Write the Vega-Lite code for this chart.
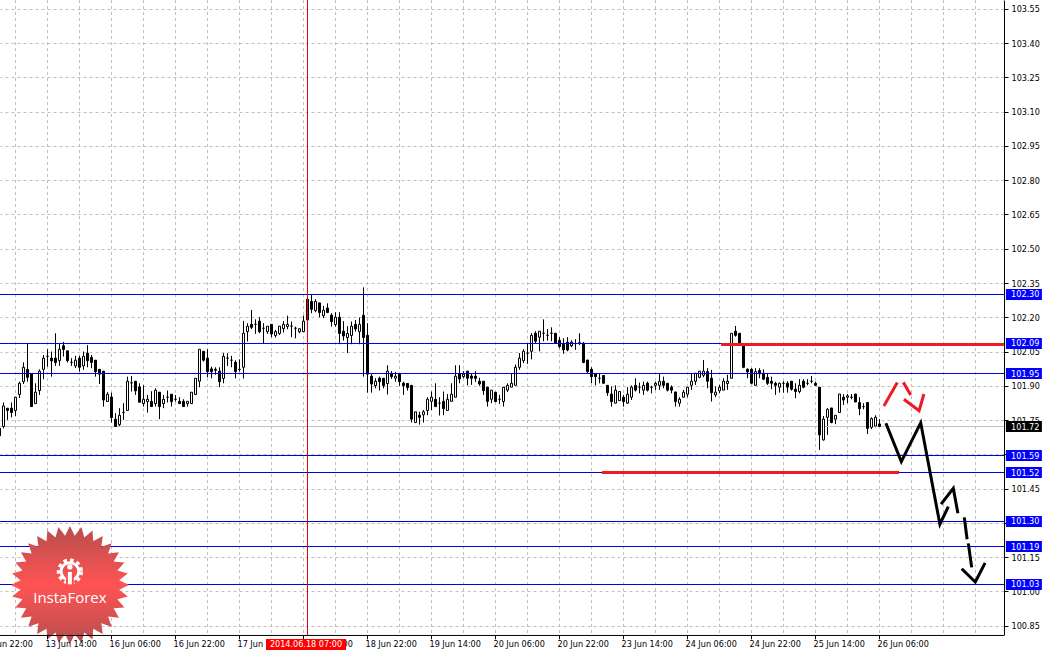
{"$schema":"https://vega.github.io/schema/vega-lite/v6.json","width":1004,"height":635,"autosize":{"type":"none"},"padding":{"left":0,"top":0,"right":39,"bottom":20},"background":"white","config":{"view":{"stroke":null}},
"datasets":{
"candles":[
{"b":0,"o":101.714,"h":101.714,"l":101.681,"c":101.681},{"b":1,"o":101.722,"h":101.827,"l":101.713,"c":101.812},{"b":2,"o":101.802,"h":101.802,"l":101.751,"c":101.792},{"b":3,"o":101.802,"h":101.827,"l":101.762,"c":101.783},{"b":4,"o":101.792,"h":101.85,"l":101.768,"c":101.85},{"b":5,"o":101.862,"h":101.918,"l":101.846,"c":101.911},{"b":6,"o":101.918,"h":102.003,"l":101.908,"c":101.981},{"b":7,"o":101.972,"h":102.086,"l":101.918,"c":101.937},{"b":8,"o":101.952,"h":101.952,"l":101.809,"c":101.809},{"b":9,"o":101.822,"h":101.911,"l":101.822,"c":101.872},
{"b":10,"o":101.879,"h":101.972,"l":101.86,"c":101.964},{"b":11,"o":101.972,"h":102.035,"l":101.929,"c":102.021},{"b":12,"o":102.029,"h":102.06,"l":101.984,"c":102.029},{"b":13,"o":102.021,"h":102.05,"l":101.94,"c":102.009},{"b":14,"o":102.021,"h":102.13,"l":101.987,"c":102.002},{"b":15,"o":102.01,"h":102.083,"l":101.987,"c":102.06},{"b":16,"o":102.075,"h":102.092,"l":102.028,"c":102.059},{"b":17,"o":102.053,"h":102.053,"l":102.002,"c":102.01},{"b":18,"o":102.003,"h":102.021,"l":101.987,"c":102.003},{"b":19,"o":101.987,"h":102.031,"l":101.978,"c":102.012},
{"b":20,"o":102.021,"h":102.031,"l":101.962,"c":101.981},{"b":21,"o":101.987,"h":102.05,"l":101.97,"c":102.029},{"b":22,"o":102.043,"h":102.078,"l":101.981,"c":102.01},{"b":23,"o":102.024,"h":102.035,"l":101.977,"c":102.002},{"b":24,"o":102.012,"h":102.012,"l":101.94,"c":101.962},{"b":25,"o":101.972,"h":101.972,"l":101.908,"c":101.951},{"b":26,"o":101.964,"h":101.964,"l":101.809,"c":101.838},{"b":27,"o":101.831,"h":101.872,"l":101.831,"c":101.863},{"b":28,"o":101.851,"h":101.87,"l":101.739,"c":101.761},{"b":29,"o":101.754,"h":101.78,"l":101.722,"c":101.722},
{"b":30,"o":101.73,"h":101.802,"l":101.722,"c":101.771},{"b":31,"o":101.784,"h":101.824,"l":101.751,"c":101.784},{"b":32,"o":101.792,"h":101.94,"l":101.792,"c":101.92},{"b":33,"o":101.913,"h":101.943,"l":101.875,"c":101.913},{"b":34,"o":101.92,"h":101.92,"l":101.86,"c":101.878},{"b":35,"o":101.895,"h":101.911,"l":101.828,"c":101.828},{"b":36,"o":101.822,"h":101.902,"l":101.809,"c":101.841},{"b":37,"o":101.831,"h":101.86,"l":101.783,"c":101.841},{"b":38,"o":101.832,"h":101.876,"l":101.809,"c":101.809},{"b":39,"o":101.822,"h":101.889,"l":101.809,"c":101.881},
{"b":40,"o":101.872,"h":101.872,"l":101.754,"c":101.809},{"b":41,"o":101.822,"h":101.86,"l":101.802,"c":101.841},{"b":42,"o":101.85,"h":101.879,"l":101.827,"c":101.85},{"b":43,"o":101.863,"h":101.863,"l":101.809,"c":101.831},{"b":44,"o":101.841,"h":101.86,"l":101.831,"c":101.841},{"b":45,"o":101.832,"h":101.85,"l":101.821,"c":101.822},{"b":46,"o":101.832,"h":101.841,"l":101.809,"c":101.809},{"b":47,"o":101.822,"h":101.832,"l":101.809,"c":101.832},{"b":48,"o":101.822,"h":101.872,"l":101.822,"c":101.872},{"b":49,"o":101.862,"h":101.933,"l":101.862,"c":101.933},
{"b":50,"o":101.92,"h":102.06,"l":101.894,"c":102.06},{"b":51,"o":102.051,"h":102.051,"l":102.006,"c":102.012},{"b":52,"o":102.021,"h":102.06,"l":101.937,"c":101.962},{"b":53,"o":101.974,"h":101.984,"l":101.933,"c":101.962},{"b":54,"o":101.972,"h":101.981,"l":101.948,"c":101.968},{"b":55,"o":101.964,"h":101.981,"l":101.894,"c":101.918},{"b":56,"o":101.932,"h":102.043,"l":101.911,"c":102.029},{"b":57,"o":102.021,"h":102.043,"l":101.987,"c":102.021},{"b":58,"o":102.012,"h":102.031,"l":101.981,"c":102.012},{"b":59,"o":102.003,"h":102.012,"l":101.933,"c":101.962},
{"b":60,"o":101.972,"h":102.016,"l":101.962,"c":101.972},{"b":61,"o":101.981,"h":102.184,"l":101.932,"c":102.13},{"b":62,"o":102.137,"h":102.174,"l":102.094,"c":102.161},{"b":63,"o":102.169,"h":102.232,"l":102.148,"c":102.156},{"b":64,"o":102.169,"h":102.191,"l":102.127,"c":102.169},{"b":65,"o":102.183,"h":102.2,"l":102.13,"c":102.137},{"b":66,"o":102.152,"h":102.174,"l":102.086,"c":102.152},{"b":67,"o":102.137,"h":102.161,"l":102.127,"c":102.161},{"b":68,"o":102.169,"h":102.169,"l":102.113,"c":102.127},{"b":69,"o":102.12,"h":102.145,"l":102.111,"c":102.137},
{"b":70,"o":102.129,"h":102.161,"l":102.123,"c":102.161},{"b":71,"o":102.15,"h":102.183,"l":102.133,"c":102.169},{"b":72,"o":102.159,"h":102.207,"l":102.148,"c":102.169},{"b":73,"o":102.161,"h":102.181,"l":102.113,"c":102.161},{"b":74,"o":102.152,"h":102.159,"l":102.108,"c":102.152},{"b":75,"o":102.137,"h":102.15,"l":102.13,"c":102.15},{"b":76,"o":102.137,"h":102.207,"l":102.137,"c":102.183},{"b":77,"o":102.279,"h":102.299,"l":102.188,"c":102.188},{"b":78,"o":102.269,"h":102.299,"l":102.218,"c":102.235},{"b":79,"o":102.229,"h":102.279,"l":102.222,"c":102.269},
{"b":80,"o":102.263,"h":102.263,"l":102.2,"c":102.221},{"b":81,"o":102.207,"h":102.25,"l":102.196,"c":102.231},{"b":82,"o":102.24,"h":102.261,"l":102.218,"c":102.221},{"b":83,"o":102.209,"h":102.218,"l":102.159,"c":102.181},{"b":84,"o":102.168,"h":102.222,"l":102.159,"c":102.2},{"b":85,"o":102.2,"h":102.222,"l":102.082,"c":102.129},{"b":86,"o":102.139,"h":102.183,"l":102.098,"c":102.118},{"b":87,"o":102.111,"h":102.161,"l":102.043,"c":102.129},{"b":88,"o":102.12,"h":102.181,"l":102.082,"c":102.161},{"b":89,"o":102.169,"h":102.188,"l":102.137,"c":102.149},
{"b":90,"o":102.137,"h":102.199,"l":102.082,"c":102.169},{"b":91,"o":102.209,"h":102.331,"l":101.94,"c":102.111},{"b":92,"o":102.121,"h":102.174,"l":101.87,"c":101.951},{"b":93,"o":101.942,"h":101.951,"l":101.87,"c":101.908},{"b":94,"o":101.901,"h":101.933,"l":101.889,"c":101.92},{"b":95,"o":101.933,"h":101.94,"l":101.879,"c":101.918},{"b":96,"o":101.933,"h":101.933,"l":101.889,"c":101.901},{"b":97,"o":101.91,"h":101.99,"l":101.862,"c":101.964},{"b":98,"o":101.952,"h":101.964,"l":101.93,"c":101.94},{"b":99,"o":101.933,"h":101.961,"l":101.918,"c":101.942},
{"b":100,"o":101.952,"h":101.952,"l":101.9,"c":101.918},{"b":101,"o":101.911,"h":101.918,"l":101.86,"c":101.901},{"b":102,"o":101.91,"h":101.911,"l":101.879,"c":101.892},{"b":103,"o":101.902,"h":101.902,"l":101.739,"c":101.754},{"b":104,"o":101.739,"h":101.786,"l":101.739,"c":101.786},{"b":105,"o":101.771,"h":101.786,"l":101.73,"c":101.762},{"b":106,"o":101.773,"h":101.794,"l":101.739,"c":101.786},{"b":107,"o":101.792,"h":101.85,"l":101.771,"c":101.841},{"b":108,"o":101.832,"h":101.875,"l":101.794,"c":101.85},{"b":109,"o":101.841,"h":101.911,"l":101.809,"c":101.809},
{"b":110,"o":101.824,"h":101.85,"l":101.77,"c":101.824},{"b":111,"o":101.832,"h":101.875,"l":101.771,"c":101.8},{"b":112,"o":101.792,"h":101.864,"l":101.792,"c":101.841},{"b":113,"o":101.832,"h":101.911,"l":101.832,"c":101.863},{"b":114,"o":101.85,"h":101.99,"l":101.85,"c":101.942},{"b":115,"o":101.952,"h":101.99,"l":101.911,"c":101.93},{"b":116,"o":101.94,"h":101.964,"l":101.933,"c":101.951},{"b":117,"o":101.964,"h":101.964,"l":101.902,"c":101.933},{"b":118,"o":101.943,"h":101.955,"l":101.904,"c":101.933},{"b":119,"o":101.942,"h":101.964,"l":101.917,"c":101.933},
{"b":120,"o":101.92,"h":101.935,"l":101.9,"c":101.908},{"b":121,"o":101.92,"h":101.92,"l":101.86,"c":101.879},{"b":122,"o":101.894,"h":101.894,"l":101.809,"c":101.832},{"b":123,"o":101.841,"h":101.881,"l":101.824,"c":101.881},{"b":124,"o":101.872,"h":101.872,"l":101.828,"c":101.831},{"b":125,"o":101.841,"h":101.86,"l":101.821,"c":101.841},{"b":126,"o":101.831,"h":101.894,"l":101.809,"c":101.894},{"b":127,"o":101.881,"h":101.911,"l":101.873,"c":101.902},{"b":128,"o":101.894,"h":101.955,"l":101.894,"c":101.911},{"b":129,"o":101.902,"h":101.993,"l":101.902,"c":101.981},
{"b":130,"o":101.981,"h":102.043,"l":101.97,"c":102.021},{"b":131,"o":102.01,"h":102.06,"l":101.999,"c":102.051},{"b":132,"o":102.043,"h":102.086,"l":101.996,"c":102.043},{"b":133,"o":102.051,"h":102.13,"l":102.016,"c":102.121},{"b":134,"o":102.13,"h":102.139,"l":102.086,"c":102.095},{"b":135,"o":102.113,"h":102.139,"l":102.051,"c":102.139},{"b":136,"o":102.13,"h":102.191,"l":102.095,"c":102.13},{"b":137,"o":102.121,"h":102.148,"l":102.098,"c":102.121},{"b":138,"o":102.13,"h":102.156,"l":102.095,"c":102.13},{"b":139,"o":102.13,"h":102.13,"l":102.086,"c":102.086},
{"b":140,"o":102.099,"h":102.113,"l":102.064,"c":102.072},{"b":141,"o":102.082,"h":102.108,"l":102.04,"c":102.057},{"b":142,"o":102.091,"h":102.113,"l":102.051,"c":102.057},{"b":143,"o":102.075,"h":102.099,"l":102.069,"c":102.091},{"b":144,"o":102.085,"h":102.104,"l":102.057,"c":102.085},{"b":145,"o":102.089,"h":102.13,"l":102.078,"c":102.089},{"b":146,"o":102.086,"h":102.092,"l":101.999,"c":102.002},{"b":147,"o":102.013,"h":102.013,"l":101.955,"c":101.962},{"b":148,"o":101.972,"h":101.981,"l":101.911,"c":101.94},{"b":149,"o":101.953,"h":101.955,"l":101.902,"c":101.94},
{"b":150,"o":101.933,"h":101.952,"l":101.911,"c":101.933},{"b":151,"o":101.945,"h":101.945,"l":101.911,"c":101.911},{"b":152,"o":101.902,"h":101.902,"l":101.856,"c":101.87},{"b":153,"o":101.864,"h":101.897,"l":101.809,"c":101.831},{"b":154,"o":101.824,"h":101.902,"l":101.824,"c":101.881},{"b":155,"o":101.835,"h":101.875,"l":101.835,"c":101.875},{"b":156,"o":101.85,"h":101.86,"l":101.809,"c":101.831},{"b":157,"o":101.824,"h":101.894,"l":101.821,"c":101.863},{"b":158,"o":101.85,"h":101.902,"l":101.838,"c":101.894},{"b":159,"o":101.902,"h":101.933,"l":101.875,"c":101.881},
{"b":160,"o":101.894,"h":101.914,"l":101.867,"c":101.894},{"b":161,"o":101.881,"h":101.918,"l":101.86,"c":101.902},{"b":162,"o":101.911,"h":101.918,"l":101.875,"c":101.881},{"b":163,"o":101.894,"h":101.9,"l":101.867,"c":101.894},{"b":164,"o":101.902,"h":101.918,"l":101.882,"c":101.911},{"b":165,"o":101.902,"h":101.955,"l":101.882,"c":101.92},{"b":166,"o":101.92,"h":101.94,"l":101.889,"c":101.902},{"b":167,"o":101.911,"h":101.911,"l":101.875,"c":101.881},{"b":168,"o":101.894,"h":101.902,"l":101.867,"c":101.881},{"b":169,"o":101.873,"h":101.873,"l":101.809,"c":101.831},
{"b":170,"o":101.824,"h":101.85,"l":101.809,"c":101.841},{"b":171,"o":101.85,"h":101.882,"l":101.85,"c":101.872},{"b":172,"o":101.863,"h":101.894,"l":101.85,"c":101.894},{"b":173,"o":101.902,"h":101.955,"l":101.882,"c":101.92},{"b":174,"o":101.92,"h":101.955,"l":101.904,"c":101.955},{"b":175,"o":101.937,"h":101.964,"l":101.933,"c":101.964},{"b":176,"o":101.946,"h":102.013,"l":101.937,"c":101.964},{"b":177,"o":101.962,"h":101.977,"l":101.889,"c":101.92},{"b":178,"o":101.933,"h":101.97,"l":101.831,"c":101.87},{"b":179,"o":101.86,"h":101.897,"l":101.85,"c":101.872},
{"b":180,"o":101.878,"h":101.904,"l":101.867,"c":101.894},{"b":181,"o":101.881,"h":101.933,"l":101.881,"c":101.92},{"b":182,"o":101.91,"h":101.948,"l":101.882,"c":101.92},{"b":183,"o":101.933,"h":102.13,"l":101.933,"c":102.13},{"b":184,"o":102.139,"h":102.162,"l":102.115,"c":102.121},{"b":185,"o":102.13,"h":102.13,"l":102.086,"c":102.086},{"b":186,"o":102.076,"h":102.086,"l":101.977,"c":101.981},{"b":187,"o":101.972,"h":101.977,"l":101.933,"c":101.961},{"b":188,"o":101.972,"h":101.977,"l":101.907,"c":101.911},{"b":189,"o":101.902,"h":101.977,"l":101.902,"c":101.962},
{"b":190,"o":101.967,"h":101.977,"l":101.933,"c":101.952},{"b":191,"o":101.955,"h":101.972,"l":101.926,"c":101.929},{"b":192,"o":101.937,"h":101.955,"l":101.904,"c":101.911},{"b":193,"o":101.92,"h":101.94,"l":101.885,"c":101.911},{"b":194,"o":101.911,"h":101.918,"l":101.86,"c":101.902},{"b":195,"o":101.894,"h":101.914,"l":101.87,"c":101.911},{"b":196,"o":101.911,"h":101.92,"l":101.87,"c":101.911},{"b":197,"o":101.911,"h":101.92,"l":101.87,"c":101.894},{"b":198,"o":101.92,"h":101.92,"l":101.879,"c":101.885},{"b":199,"o":101.885,"h":101.911,"l":101.846,"c":101.875},
{"b":200,"o":101.875,"h":101.929,"l":101.867,"c":101.902},{"b":201,"o":101.92,"h":101.929,"l":101.889,"c":101.894},{"b":202,"o":101.911,"h":101.929,"l":101.902,"c":101.911},{"b":203,"o":101.92,"h":101.943,"l":101.911,"c":101.92},{"b":204,"o":101.911,"h":101.918,"l":101.9,"c":101.902},{"b":205,"o":101.894,"h":101.894,"l":101.619,"c":101.685},{"b":206,"o":101.663,"h":101.768,"l":101.66,"c":101.754},{"b":207,"o":101.762,"h":101.802,"l":101.685,"c":101.797},{"b":208,"o":101.803,"h":101.803,"l":101.736,"c":101.739},{"b":209,"o":101.754,"h":101.771,"l":101.732,"c":101.771},
{"b":210,"o":101.783,"h":101.864,"l":101.783,"c":101.864},{"b":211,"o":101.85,"h":101.863,"l":101.816,"c":101.838},{"b":212,"o":101.85,"h":101.864,"l":101.824,"c":101.856},{"b":213,"o":101.85,"h":101.864,"l":101.841,"c":101.85},{"b":214,"o":101.864,"h":101.864,"l":101.829,"c":101.829},{"b":215,"o":101.827,"h":101.85,"l":101.771,"c":101.8},{"b":216,"o":101.809,"h":101.824,"l":101.797,"c":101.809},{"b":217,"o":101.827,"h":101.827,"l":101.689,"c":101.714},{"b":218,"o":101.718,"h":101.762,"l":101.71,"c":101.756},{"b":219,"o":101.724,"h":101.771,"l":101.718,"c":101.762},{"b":220,"o":101.733,"h":101.754,"l":101.722,"c":101.722}],
"levels":[{"p":102.2997,"label":"102.30"},{"p":102.0852,"label":"102.09"},{"p":101.9538,"label":"101.95"},{"p":101.5948,"label":"101.59"},{"p":101.5204,"label":"101.52"},{"p":101.3059,"label":"101.30"},{"p":101.1964,"label":"101.19"},{"p":101.0301,"label":"101.03"}],
"bid":[{"p":101.7218,"label":"101.72"}],
"ticks":[{"k":-4,"label":"12 Jun 22:00"},{"k":12,"label":"13 Jun 14:00"},{"k":28,"label":"16 Jun 06:00"},{"k":44,"label":"16 Jun 22:00"},{"k":60,"label":"17 Jun 14:00"},{"k":76,"label":"18 Jun 06:00"},{"k":92,"label":"18 Jun 22:00"},{"k":108,"label":"19 Jun 14:00"},{"k":124,"label":"20 Jun 06:00"},{"k":140,"label":"20 Jun 22:00"},{"k":156,"label":"23 Jun 14:00"},{"k":172,"label":"24 Jun 06:00"},{"k":188,"label":"24 Jun 22:00"},{"k":204,"label":"25 Jun 14:00"},{"k":220,"label":"26 Jun 06:00"}],
"paths":[
{"s":"r1","col":"red","n":0,"k":180.4,"p":102.0808},{"s":"r1","col":"red","n":1,"k":251.1,"p":102.0808},
{"s":"r2","col":"red","n":0,"k":150.6,"p":101.5204},{"s":"r2","col":"red","n":1,"k":224.9,"p":101.5204},
{"s":"ra","col":"red","n":0,"k":221.1,"p":101.812},{"s":"ra","col":"red","n":1,"k":224.45,"p":101.914},
{"s":"rb","col":"red","n":0,"k":225.95,"p":101.915},{"s":"rb","col":"red","n":1,"k":227.8,"p":101.86},
{"s":"rc","col":"red","n":0,"k":226.1,"p":101.841},{"s":"rc","col":"red","n":1,"k":229.9,"p":101.791},{"s":"rc","col":"red","n":2,"k":231.1,"p":101.864},
{"s":"b1","col":"black","n":0,"k":221.6,"p":101.736},{"s":"b1","col":"black","n":1,"k":225.45,"p":101.568},{"s":"b1","col":"black","n":2,"k":230.3,"p":101.738},{"s":"b1","col":"black","n":3,"k":235.1,"p":101.294},{"s":"b1","col":"black","n":4,"k":237.2,"p":101.371},
{"s":"b2","col":"black","n":0,"k":235.4,"p":101.382},{"s":"b2","col":"black","n":1,"k":238.45,"p":101.451},{"s":"b2","col":"black","n":2,"k":239.6,"p":101.342},
{"s":"b3","col":"black","n":0,"k":241.2,"p":101.324},{"s":"b3","col":"black","n":1,"k":241.9,"p":101.228},
{"s":"b4","col":"black","n":0,"k":242.2,"p":101.21},{"s":"b4","col":"black","n":1,"k":243.05,"p":101.105},
{"s":"b5","col":"black","n":0,"k":240.55,"p":101.099},{"s":"b5","col":"black","n":1,"k":243.95,"p":101.041},{"s":"b5","col":"black","n":2,"k":246.4,"p":101.125}],
"logo":[{"k":17.6,"p":101.028,"name":"InstaForex"}],
"one":[{"k":77,"stamp":"2014.06.18 07:00"}]
},
"layer":[
{"data":{"name":"candles"},"mark":{"type":"rule","color":"black","strokeWidth":1},"encoding":{
"x":{"field":"b","type":"quantitative","title":null,"scale":{"domain":[0.125,251.125],"nice":false,"zero":false,"padding":0},"axis":{"orient":"bottom","tickCount":100,"values":[-4,4,12,20,28,36,44,52,60,68,76,84,92,100,108,116,124,132,140,148,156,164,172,180,188,196,204,212,220,228,236,244],"grid":true,"gridColor":"#c0c0c0","gridDash":[3,3],"gridWidth":1,"labels":false,"ticks":false,"domain":false,"tickRound":false,"translate":0,"title":null}},
"y":{"field":"h","type":"quantitative","title":null,"scale":{"domain":[100.809,103.589],"nice":false,"zero":false,"padding":0},"axis":{"orient":"right","tickCount":100,"values":[103.55,103.4,103.25,103.1,102.95,102.8,102.65,102.5,102.35,102.2,102.05,101.9,101.75,101.6,101.45,101.3,101.15,101,100.85],"format":".2f","grid":true,"gridColor":"#c0c0c0","gridDash":[3,3],"gridWidth":1,"domain":true,"domainColor":"black","domainWidth":1,"tickColor":"black","tickSize":4,"labelPadding":3,"labelFont":"DejaVu Sans Condensed","labelFontSize":9,"labelColor":"black","labelOverlap":false,"labelBound":false,"labelFlush":false,"title":null}},
"y2":{"field":"l"}}},
{"data":{"name":"bid"},"mark":{"type":"rule","color":"#c0c0c0","strokeWidth":1},"encoding":{"y":{"field":"p","type":"quantitative"}}},
{"data":{"name":"candles"},"mark":{"type":"bar","width":2,"stroke":"black","strokeWidth":1,"orient":"vertical"},"encoding":{
"x":{"field":"b","type":"quantitative"},"y":{"field":"o","type":"quantitative"},"y2":{"field":"c"},
"fill":{"condition":{"test":"datum.c<datum.o","value":"black"},"value":"white"}}},
{"data":{"name":"levels"},"mark":{"type":"rule","color":"#0000e0","strokeWidth":1},"encoding":{"y":{"field":"p","type":"quantitative"}}},
{"data":{"name":"one"},"mark":{"type":"rule","color":"#e00000","strokeWidth":1},"encoding":{"x":{"field":"k","type":"quantitative"}}},
{"data":{"name":"paths"},"mark":{"type":"line","strokeWidth":3,"strokeCap":"butt","strokeJoin":"miter"},"encoding":{
"x":{"field":"k","type":"quantitative"},"y":{"field":"p","type":"quantitative"},"detail":{"field":"s"},"order":{"field":"n"},
"color":{"field":"col","type":"nominal","scale":{"domain":["red","black"],"range":["#ed1c24","black"]},"legend":null}}},
{"data":{"name":"logo"},"mark":{"type":"point","filled":true,"opacity":1,"size":13924,"shape":"M1,0L.836,.082L.981,.195L.804,.244L.924,.383L.741,.396L.831,.556L.649,.533L.707,.707L.533,.649L.556,.831L.396,.741L.383,.924L.244,.804L.195,.981L.082,.836L0,1L-.082,.836L-.195,.981L-.244,.804L-.383,.924L-.396,.741L-.556,.831L-.533,.649L-.707,.707L-.649,.533L-.831,.556L-.741,.396L-.924,.383L-.804,.244L-.981,.195L-.836,.082L-1,0L-.836,-.082L-.981,-.195L-.804,-.244L-.924,-.383L-.741,-.396L-.831,-.556L-.649,-.533L-.707,-.707L-.533,-.649L-.556,-.831L-.396,-.741L-.383,-.924L-.244,-.804L-.195,-.981L-.082,-.836L0,-1L.082,-.836L.195,-.981L.244,-.804L.383,-.924L.396,-.741L.556,-.831L.533,-.649L.707,-.707L.649,-.533L.831,-.556L.741,-.396L.924,-.383L.804,-.244L.981,-.195L.836,-.082Z","fill":{"gradient":"linear","x1":0,"y1":0,"x2":0,"y2":1,"stops":[{"offset":0,"color":"#b84e4e"},{"offset":0.5,"color":"#ff5353"},{"offset":1,"color":"#b84e4e"}]}},"encoding":{"x":{"field":"k","type":"quantitative"},"y":{"field":"p","type":"quantitative"}}},
{"data":{"name":"logo"},"mark":{"type":"point","filled":false,"size":491,"stroke":"white","strokeWidth":4,"strokeDash":[3.5,3],"opacity":1},"encoding":{"x":{"field":"k","type":"quantitative"},"y":{"datum":101.087}}},
{"data":{"name":"logo"},"mark":{"type":"point","filled":false,"size":314,"stroke":"white","strokeWidth":3,"opacity":1},"encoding":{"x":{"field":"k","type":"quantitative"},"y":{"datum":101.087}}},
{"data":{"name":"logo"},"mark":{"type":"rule","color":"#fa5252","strokeWidth":8},"encoding":{"x":{"field":"k","type":"quantitative"},"y":{"datum":101.062},"y2":{"datum":101.02}}},
{"data":{"name":"logo"},"mark":{"type":"rule","color":"white","strokeWidth":4},"encoding":{"x":{"field":"k","type":"quantitative"},"y":{"datum":101.085},"y2":{"datum":101.031}}},
{"data":{"name":"logo"},"mark":{"type":"point","filled":true,"size":28,"color":"white","opacity":1},"encoding":{"x":{"field":"k","type":"quantitative"},"y":{"datum":101.107}}},
{"data":{"name":"logo"},"mark":{"type":"text","font":"Open Sans","fontSize":15,"color":"white","align":"center","baseline":"middle"},"encoding":{"x":{"field":"k","type":"quantitative"},"y":{"datum":100.972},"text":{"field":"name"}}},
{"data":{"name":"one"},"mark":{"type":"rule","color":"black","strokeWidth":1},"encoding":{"y":{"datum":100.807}}},
{"data":{"name":"ticks"},"mark":{"type":"rule","color":"black","strokeWidth":1},"encoding":{"x":{"field":"k","type":"quantitative"},"y":{"datum":100.807},"y2":{"datum":100.79}}},
{"data":{"name":"ticks"},"mark":{"type":"text","font":"DejaVu Sans Condensed","fontSize":9,"color":"black","align":"left","baseline":"middle","dx":-2},"encoding":{"x":{"field":"k","type":"quantitative"},"y":{"datum":100.769},"text":{"field":"label"}}},
{"data":{"name":"one"},"mark":{"type":"rule","color":"#ff0000","strokeWidth":11},"encoding":{"x":{"datum":66.625},"x2":{"datum":86.625},"y":{"datum":100.767}}},
{"data":{"name":"one"},"mark":{"type":"text","font":"DejaVu Sans Condensed","fontSize":9,"color":"white","align":"left","baseline":"middle"},"encoding":{"x":{"datum":67.6},"y":{"datum":100.769},"text":{"field":"stamp"}}},
{"data":{"name":"levels"},"mark":{"type":"rule","color":"#0000ff","strokeWidth":11},"encoding":{"x":{"datum":251.6},"x2":{"datum":260.6},"y":{"field":"p","type":"quantitative"}}},
{"data":{"name":"bid"},"mark":{"type":"rule","color":"black","strokeWidth":11},"encoding":{"x":{"datum":251.6},"x2":{"datum":260.6},"y":{"field":"p","type":"quantitative"}}},
{"data":{"name":"levels"},"mark":{"type":"text","font":"DejaVu Sans Condensed","fontSize":9,"color":"white","align":"left","baseline":"middle"},"encoding":{"x":{"datum":252.9},"y":{"field":"p","type":"quantitative"},"text":{"field":"label"}}},
{"data":{"name":"bid"},"mark":{"type":"text","font":"DejaVu Sans Condensed","fontSize":9,"color":"white","align":"left","baseline":"middle"},"encoding":{"x":{"datum":252.9},"y":{"field":"p","type":"quantitative"},"text":{"field":"label"}}}
]}
